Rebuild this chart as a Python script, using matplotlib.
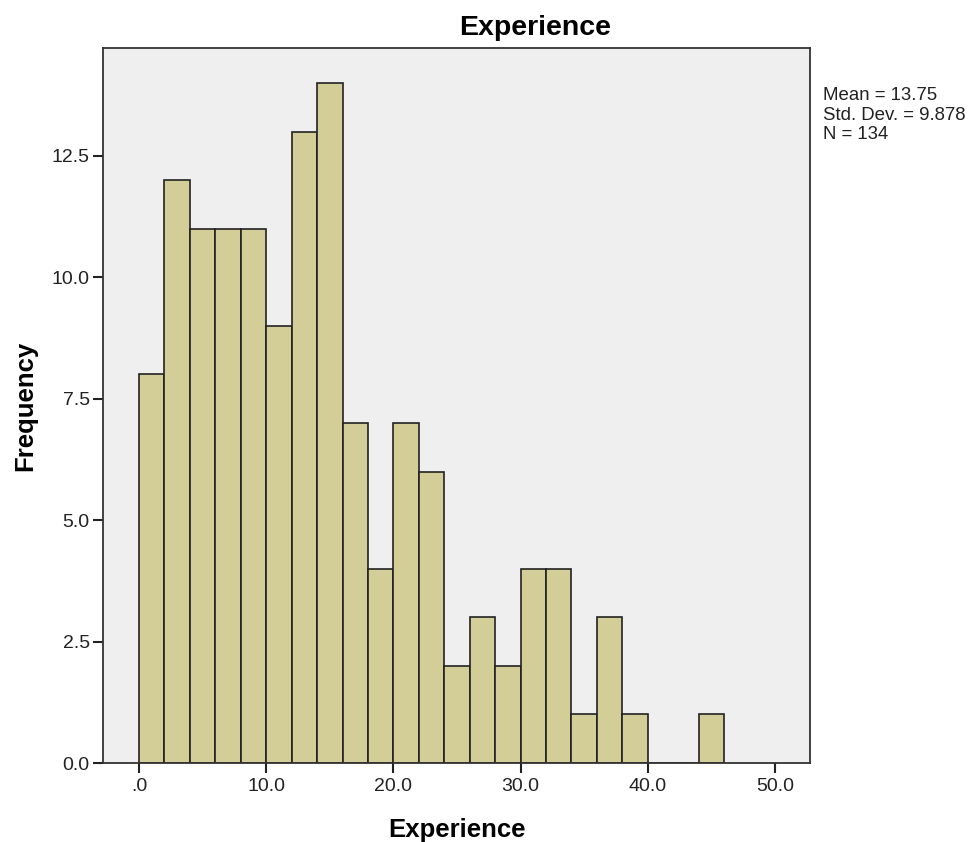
#!/usr/bin/env python3

import matplotlib
matplotlib.use("Agg")
import matplotlib.pyplot as plt

DPI = 100

# histogram bins (left edges, width 2.0) and frequencies
BIN_LEFT = [0, 2, 4, 6, 8, 10, 12, 14, 16, 18, 20, 22, 24, 26, 28, 30,
            32, 34, 36, 38, 40, 42, 44]
COUNTS = [8, 12, 11, 11, 11, 9, 13, 14, 7, 4, 7, 6, 2, 3, 2, 4,
          4, 1, 3, 1, 0, 0, 1]
BIN_WIDTH = 2.0

X_TICKS = [0, 10, 20, 30, 40, 50]
X_TICK_LABELS = [".0", "10.0", "20.0", "30.0", "40.0", "50.0"]
Y_TICKS = [0, 2.5, 5, 7.5, 10, 12.5]
Y_TICK_LABELS = ["0.0", "2.5", "5.0", "7.5", "10.0", "12.5"]

STATS = "Mean = 13.75\nStd. Dev. = 9.878\nN = 134"

plt.rcParams['font.family'] = ['Liberation Sans', 'DejaVu Sans']


def main():
    W, H = 971, 842
    fig = plt.figure(figsize=(W / DPI, H / DPI), dpi=DPI)
    ax = fig.add_axes([103 / W, 1 - 763 / H, 707 / W, 715 / H])
    ax.set_facecolor('#efefef')

    ax.bar(BIN_LEFT, COUNTS, width=BIN_WIDTH, align='edge',
           color='#d3ce98', edgecolor='#222222', linewidth=1.2)

    ax.set_xlim(-2.83, 52.75)
    ax.set_ylim(0, 14.72)
    ax.set_xticks(X_TICKS)
    ax.set_xticklabels(X_TICK_LABELS)
    ax.set_yticks(Y_TICKS)
    ax.set_yticklabels(Y_TICK_LABELS)
    ax.tick_params(direction='out', length=7.5, width=1.5, labelsize=14,
                   colors='#222222')
    ax.tick_params(axis='x', pad=3.5)
    ax.tick_params(axis='y', pad=2)
    for sp in ax.spines.values():
        sp.set_color('#333333')
        sp.set_linewidth(1.3)

    # SPSS centres the title over the whole chart area incl. the stats box
    fig.text(535 / W, 1 - 35 / H, 'Experience', fontsize=20.5,
             fontweight='bold', ha='center', va='baseline')
    fig.text(457 / W, 1 - 837 / H, 'Experience', fontsize=18.5,
             fontweight='bold', ha='center', va='baseline')
    fig.text(13 / W, 1 - 406 / H, 'Frequency', fontsize=18.5,
             fontweight='bold', ha='left', va='center', rotation=90)

    fig.text(823 / W, 1 - 87 / H, STATS, fontsize=13.4, va='top',
             ha='left', linespacing=1.2, color='#222222')

    fig.savefig('out.png', dpi=DPI)


if __name__ == "__main__":
    main()
